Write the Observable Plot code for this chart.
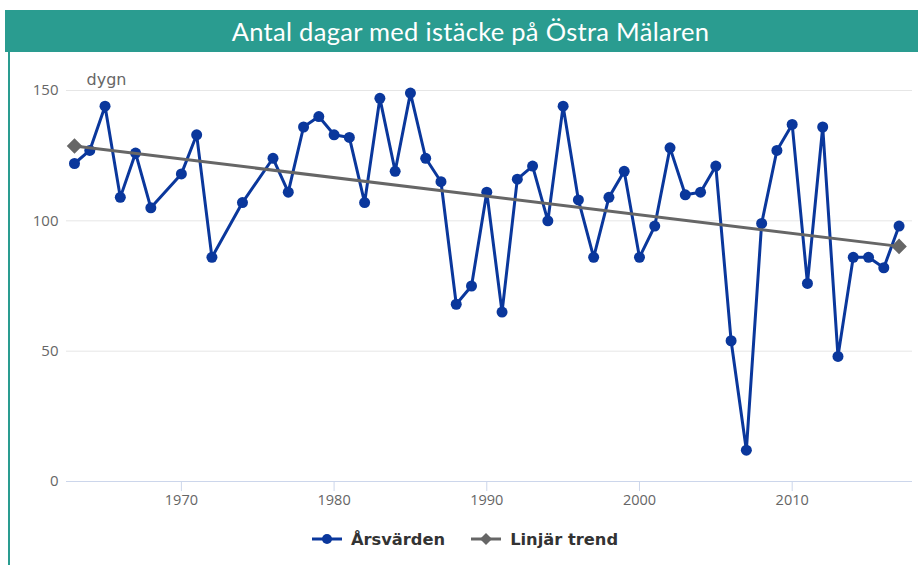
<!DOCTYPE html>
<html>
<head>
<meta charset="utf-8">
<script src="https://cdn.jsdelivr.net/npm/d3@7"></script>
<script src="https://cdn.jsdelivr.net/npm/@observablehq/plot@0.6"></script>
<style>
  html, body { margin: 0; padding: 0; background: #fff; }
  #wrap { position: relative; width: 918px; height: 565px; overflow: hidden; background: #fff; }
  #header { position: absolute; left: 5px; top: 10px; width: 895px; padding-left: 18px; height: 42px; background: #2a9c90;
    color: #fff; font-family: Lato, sans-serif; font-size: 25.5px; line-height: 42px; text-align: center; letter-spacing: 0.3px; }
  #leftbar { position: absolute; left: 8px; top: 52px; width: 2px; height: 513px; background: #2a9c90; }
  #chart { position: absolute; left: 0; top: 60px; }
  #legend { position: absolute; left: 6px; top: 526px; width: 918px; height: 26px; display: flex; justify-content: center; align-items: center;
    font-family: "DejaVu Sans", sans-serif; font-weight: bold; font-size: 16.3px; color: #333; }
  .item { display: flex; align-items: center; margin: 0 13px; }
  .item svg { margin-right: 9px; }
</style>
</head>
<body>
<div id="wrap">
  <div id="header">Antal dagar med istäcke på Östra Mälaren</div>
  <div id="leftbar"></div>
  <div id="chart"></div>
  <div id="legend"></div>
</div>
<script>
// Data
const years = [1963,1964,1965,1966,1967,1968,1970,1971,1972,1974,1976,1977,1978,1979,1980,1981,1982,1983,1984,1985,1986,1987,1988,1989,1990,1991,1992,1993,1994,1995,1996,1997,1998,1999,2000,2001,2002,2003,2004,2005,2006,2007,2008,2009,2010,2011,2012,2013,2014,2015,2016,2017];
const values = [122,127,144,109,126,105,118,133,86,107,124,111,136,140,133,132,107,147,119,149,124,115,68,75,111,65,116,121,100,144,108,86,109,119,86,98,128,110,111,121,54,12,99,127,137,76,136,48,86,86,82,98];
const trendYears = [1963, 2017];
const trendValues = [128.7, 90.2];
const xTicks = [1970, 1980, 1990, 2000, 2010];
const yTicks = [0, 50, 100, 150];
const seriesNames = ["Årsvärden", "Linjär trend"];
const seriesColors = ["#0a379c", "#666666"];

const series = years.map((y, i) => ({year: y, value: values[i]}));
const trend = trendYears.map((y, i) => ({year: y, value: trendValues[i]}));

const plot = Plot.plot({
  width: 918,
  height: 455,
  marginLeft: 66,
  marginRight: 6,
  marginTop: 30,
  marginBottom: 34,
  style: {background: "transparent", fontFamily: "'Open Sans', sans-serif"},
  x: {domain: [1962.476, 2017.88]},
  y: {domain: [0, 150]},
  marks: [
    Plot.ruleY([50, 100, 150], {stroke: "#e6e6e6", strokeWidth: 1}),
    Plot.ruleY([0], {stroke: "#ccd6eb", strokeWidth: 1}),
    Plot.axisY({ticks: yTicks, tickSize: 0, tickPadding: 8, label: null, fontSize: 15, color: "#666"}),
    Plot.axisX({ticks: xTicks, tickFormat: d => String(d), tickSize: 10, tickPadding: 3, stroke: "#ccd6eb", label: null, fontSize: 14.5, color: "#666"}),
    Plot.text(["dygn"], {frameAnchor: "top-left", dx: 20, dy: -11, textAnchor: "start", lineAnchor: "middle", fontSize: 16, fontFamily: "'DejaVu Sans', sans-serif", fill: "#666"}),
    Plot.line(series, {x: "year", y: "value", stroke: seriesColors[0], strokeWidth: 3}),
    Plot.dot(series, {x: "year", y: "value", r: 5.5, fill: seriesColors[0], stroke: "none"}),
    Plot.line(trend, {x: "year", y: "value", stroke: seriesColors[1], strokeWidth: 3}),
    Plot.dot(trend, {x: "year", y: "value", symbol: "diamond2", r: 7, fill: seriesColors[1], stroke: "none"})
  ]
});
document.getElementById("chart").appendChild(plot);

// Legend
const legend = document.getElementById("legend");
const symbols = [
  '<svg width="30" height="14"><line x1="0" y1="7" x2="30" y2="7" stroke="' + seriesColors[0] + '" stroke-width="3"/><circle cx="15" cy="7" r="5" fill="' + seriesColors[0] + '"/></svg>',
  '<svg width="30" height="14"><line x1="0" y1="7" x2="30" y2="7" stroke="' + seriesColors[1] + '" stroke-width="3"/><path d="M15 1 L21 7 L15 13 L9 7 Z" fill="' + seriesColors[1] + '"/></svg>'
];
seriesNames.forEach((name, i) => {
  const it = document.createElement("div");
  it.className = "item";
  it.innerHTML = symbols[i] + "<span>" + name + "</span>";
  legend.appendChild(it);
});
</script>
</body>
</html>
